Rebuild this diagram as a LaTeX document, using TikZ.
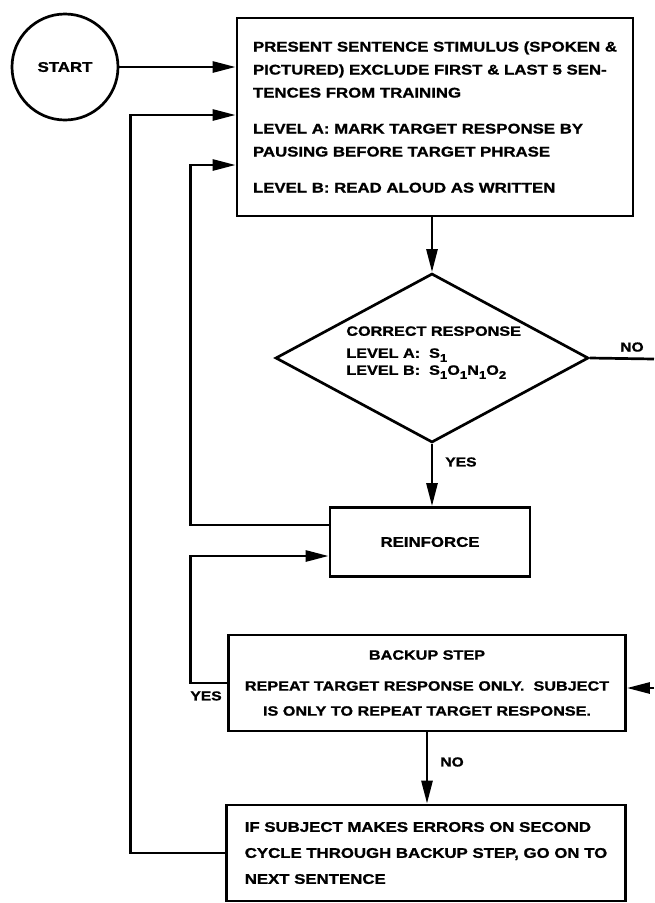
\documentclass[tikz,border=0pt]{standalone}
\usepackage{fontspec}
\newfontfamily\flowfont{Liberation Sans}[FakeStretch=1.2, FakeBold=1.2]
\usetikzlibrary{shapes.geometric,arrows.meta}

\begin{document}
\begin{tikzpicture}[x=1pt, y=-1pt, line width=2.7pt,
  font=\flowfont\bfseries\fontsize{14}{23}\selectfont,
  box/.style={draw, rectangle, inner sep=0pt},
  flow/.style={-{Triangle[length=23pt,width=11pt]}},
  lbl/.style={font=\flowfont\bfseries\fontsize{13}{15}\selectfont, inner sep=0pt}]
\useasboundingbox (0,0) rectangle (654,903);
\node [draw, circle, minimum size=106pt, inner sep=0pt] (start) at (65,67) {START};
\node [box, minimum width=396pt, minimum height=198pt, align=left] (present) at (435,117)
  {PRESENT SENTENCE STIMULUS (SPOKEN \&\\
   PICTURED) EXCLUDE FIRST \& LAST 5 SEN-\\
   TENCES FROM TRAINING\\[13pt]
   LEVEL A: MARK TARGET RESPONSE BY\\
   PAUSING BEFORE TARGET PHRASE\\[13pt]
   LEVEL B: READ ALOUD AS WRITTEN};
\node [draw, diamond, minimum width=313pt, minimum height=169pt, inner sep=0pt] (correct) at (432,358) {};
\node [anchor=north west, align=left, inner sep=0pt, font=\flowfont\bfseries\fontsize{13.5}{17}\selectfont] (correcttxt) at (345,325)
  {CORRECT RESPONSE\\[5pt]
   LEVEL A:\ \ S\raisebox{-4pt}{\fontsize{11}{11}\selectfont 1}\\
   LEVEL B:\ \ S\raisebox{-4pt}{\fontsize{11}{11}\selectfont 1}O\raisebox{-4pt}{\fontsize{11}{11}\selectfont 1}N\raisebox{-4pt}{\fontsize{11}{11}\selectfont 1}O\raisebox{-4pt}{\fontsize{11}{11}\selectfont 2}};
\node [box, minimum width=200pt, minimum height=69pt] (reinforce) at (430,542) {REINFORCE};
\node [box, minimum width=397pt, minimum height=96pt, align=center, font=\flowfont\bfseries\fontsize{13.5}{25}\selectfont] (backup) at (427,683)
  {BACKUP STEP\\[6pt]
   REPEAT TARGET RESPONSE ONLY.\ \ SUBJECT\\
   IS ONLY TO REPEAT TARGET RESPONSE.};
\node [box, minimum width=399pt, minimum height=96pt, align=left, font=\flowfont\bfseries\fontsize{14}{26}\selectfont] (nextbox) at (426,853)
  {IF SUBJECT MAKES ERRORS ON SECOND\\
   CYCLE THROUGH BACKUP STEP, GO ON TO\\
   NEXT SENTENCE};
\coordinate (inA) at ([yshift=2pt]present.west);
\coordinate (inB) at ([yshift=-48pt]present.west);
\coordinate (rOut) at ([yshift=17pt]reinforce.west);
\coordinate (rIn) at ([yshift=-14pt]reinforce.west);
\coordinate (noOut) at (654,359);
\coordinate (noIn) at (654,688);
\draw [flow] (start.east) -- (start.east -| present.west);
\draw [flow] (correct.north |- present.south) -- (correct.north);
\draw (correct.east) -- (noOut);
\draw [flow] (correct.south) -- (correct.south |- reinforce.north);
\draw [flow] (rOut) -- ++(-138,0) |- (inB);
\draw [flow] (backup.west) -- ++(-37,0) |- (rIn);
\draw [flow] (noIn) -- (noIn -| backup.east);
\draw [flow] (backup.south) -- (backup.south |- nextbox.north);
\draw [flow] (nextbox.west) -- ++(-95,0) |- (inA);
\node [lbl, anchor=south east] (no1) at (645,353) {NO};
\node [lbl, anchor=west] (yes1) at (444,462) {YES};
\node [lbl, anchor=north east] (yes2) at (223,690) {YES};
\node [lbl, anchor=west] (no2) at (439,762) {NO};
\end{tikzpicture}
\end{document}
